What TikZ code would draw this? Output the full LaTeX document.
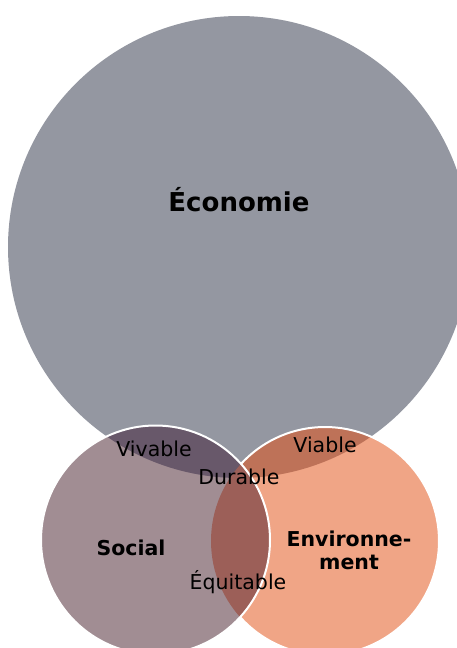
\documentclass[tikz,border=0pt]{standalone}
\usepackage{fontspec}
\setmainfont{DejaVu Sans}
\definecolor{econgray}{RGB}{148,151,161}
\definecolor{socmauve}{RGB}{161,141,147}
\definecolor{envsalmon}{RGB}{240,165,134}
\definecolor{econsoc}{RGB}{104,88,106}
\definecolor{econenv}{RGB}{190,114,88}
\definecolor{socenv}{RGB}{156,95,88}
\tikzset{
  lbl/.style={font=\fontsize{20.5}{24}\selectfont, inner sep=0pt},
  bigword/.style={font=\bfseries\fontsize{20.5}{23}\selectfont, inner sep=0pt, align=center},
  ring/.style={draw=white, line width=2pt},
}
\newcommand{\econdisc}{(econ) circle (231pt)}
\newcommand{\socdisc}{(soc) circle (114.5pt)}
\newcommand{\envdisc}{(env) circle (114pt)}

\begin{document}
\begin{tikzpicture}[x=1pt,y=-1pt]
  \useasboundingbox (0,0) rectangle (457,648);
  \clip (0,0) rectangle (457,648);
  \coordinate (econ) at (239,247);
  \coordinate (soc) at (155.5,540);
  \coordinate (env) at (325,541);
  % big circle
  \fill[econgray] \econdisc;
  % environment circle
  \fill[envsalmon] \envdisc;
  \begin{scope}
    \clip \econdisc;
    \fill[econenv] \envdisc;
  \end{scope}
  \draw[ring] \envdisc;
  % social circle on top
  \fill[socmauve] \socdisc;
  \begin{scope}
    \clip \socdisc;
    \fill[econsoc] \econdisc;
    \fill[socenv] \envdisc;
  \end{scope}
  \draw[ring] \socdisc;
  % labels
  \node[bigword, font=\bfseries\fontsize{26}{30}\selectfont] (economie) at (239,200) {Économie};
  \node[bigword] (social) at (131,548) {Social};
  \node[bigword] (environnement) at (349,550) {Environne-\\ment};
  \node[lbl] (vivable) at (154,449) {Vivable};
  \node[lbl] (viable) at (325,445) {Viable};
  \node[lbl] (durable) at (239,477) {Durable};
  \node[lbl] (equitable) at (238,582) {Équitable};
\end{tikzpicture}
\end{document}
